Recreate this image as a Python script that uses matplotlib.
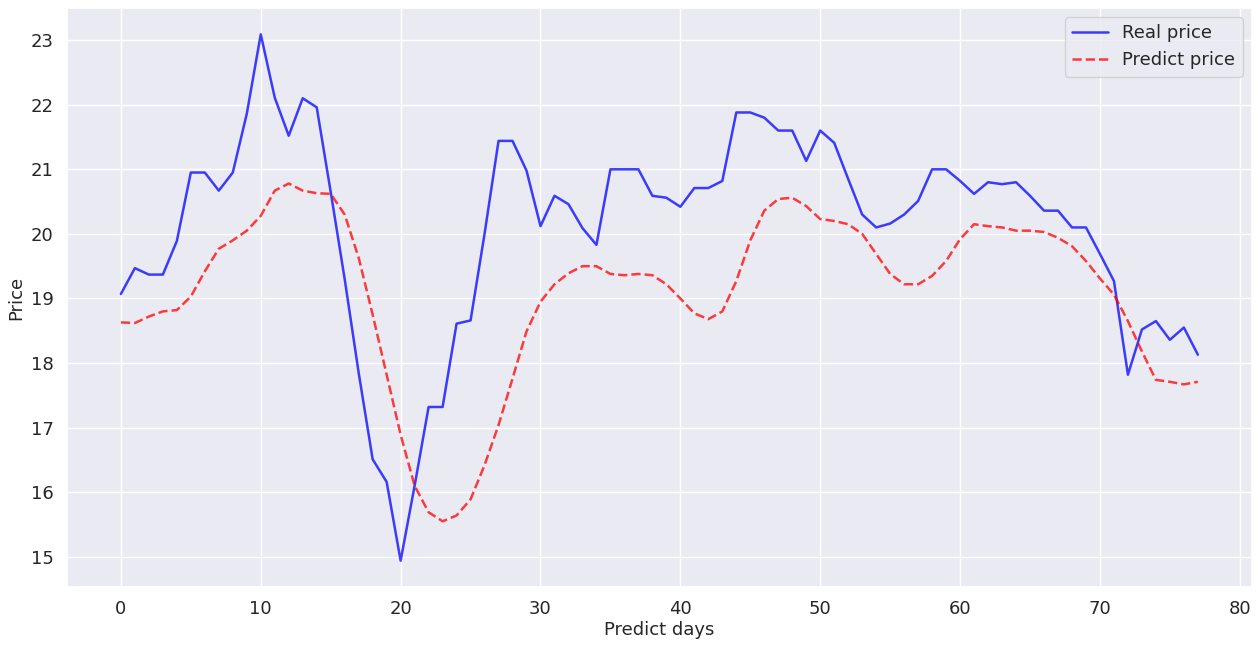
import matplotlib
matplotlib.use('Agg')
import matplotlib.pyplot as plt
import seaborn as sns

# values
real_price = [19.07, 19.47, 19.37, 19.37, 19.89, 20.95, 20.95, 20.67, 20.95, 21.86,
              23.09, 22.11, 21.52, 22.10, 21.96, 20.65, 19.30, 17.85, 16.51, 16.16,
              14.94, 16.10, 17.32, 17.32, 18.61, 18.66, 20.00, 21.44, 21.44, 20.98,
              20.12, 20.59, 20.46, 20.09, 19.83, 21.00, 21.00, 21.00, 20.59, 20.56,
              20.42, 20.71, 20.71, 20.82, 21.88, 21.88, 21.80, 21.60, 21.60, 21.13,
              21.60, 21.41, 20.85, 20.30, 20.10, 20.16, 20.30, 20.51, 21.00, 21.00,
              20.82, 20.62, 20.80, 20.77, 20.80, 20.59, 20.36, 20.36, 20.10, 20.10,
              19.69, 19.27, 17.82, 18.52, 18.65, 18.36, 18.55, 18.13]

predict_price = [18.63, 18.62, 18.72, 18.80, 18.82, 19.03, 19.42, 19.77, 19.90, 20.05,
                 20.28, 20.67, 20.78, 20.67, 20.63, 20.62, 20.30, 19.63, 18.75, 17.82,
                 16.89, 16.10, 15.69, 15.55, 15.64, 15.89, 16.42, 17.04, 17.76, 18.49,
                 18.95, 19.22, 19.39, 19.50, 19.50, 19.38, 19.36, 19.38, 19.36, 19.22,
                 19.00, 18.77, 18.68, 18.80, 19.27, 19.90, 20.36, 20.54, 20.56, 20.43,
                 20.23, 20.20, 20.15, 20.00, 19.69, 19.38, 19.22, 19.22, 19.35, 19.58,
                 19.92, 20.15, 20.12, 20.10, 20.05, 20.05, 20.03, 19.94, 19.81, 19.58,
                 19.31, 19.06, 18.65, 18.18, 17.74, 17.71, 17.67, 17.71]

days = list(range(len(real_price)))

sns.set_theme(style='darkgrid')
plt.rcParams['font.family'] = ['DejaVu Sans']

fig = plt.figure(figsize=(12.58, 6.46), dpi=100)
ax = fig.add_axes([0.0533, 0.0913, 0.9417, 0.8963])

ax.plot(days, real_price, color='blue', alpha=0.75, linewidth=1.8, label='Real price')
ax.plot(days, predict_price, color='red', alpha=0.75, linewidth=1.8,
        linestyle='--', label='Predict price')

ax.set_xlabel('Predict days', fontsize=13, labelpad=2)
ax.set_ylabel('Price', fontsize=13, labelpad=4)
ax.tick_params(labelsize=13)
ax.legend(fontsize=13, loc='upper right')

fig.savefig('out.png', dpi=100)
